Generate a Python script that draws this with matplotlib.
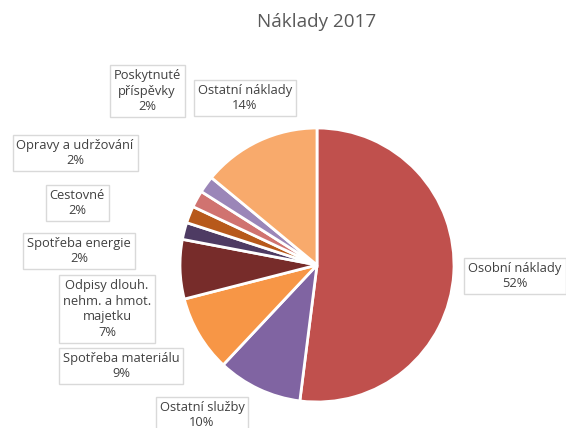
import matplotlib
matplotlib.use("Agg")
import matplotlib.pyplot as plt

categories = ["Osobní náklady", "Ostatní služby", "Spotřeba materiálu",
              "Odpisy dlouh.\nnehm. a hmot.\nmajetku", "Spotřeba energie",
              "Cestovné", "Opravy a udržování", "Poskytnuté\npříspěvky",
              "Ostatní náklady"]
values = [52, 10, 9, 7, 2, 2, 2, 2, 14]
colors = ["#C0504D", "#8064A2", "#F79646", "#772C2A", "#4E3B63",
          "#B7591B", "#D07370", "#9B86B8", "#F8AA6C"]

# label centres in pixel coordinates (x from left, y from top)
label_pos = [(515, 276), (202, 415), (121, 366), (107, 309), (79, 251),
             (77, 203), (75, 153), (147, 91), (245, 98)]

W, H = 566, 428
fig = plt.figure(figsize=(W / 100, H / 100), dpi=100)
cx, cy, r = 317, 265, 137
ax = fig.add_axes([(cx - r) / W, (H - cy - r) / H, 2 * r / W, 2 * r / H])
ax.pie(values, colors=colors, startangle=90, counterclock=False, radius=1,
       wedgeprops=dict(edgecolor="white", linewidth=2))
ax.set_xlim(-1.0, 1.0)
ax.set_ylim(-1.0, 1.0)
ax.set_aspect("equal")
ax.axis("off")

font = "Open Sans"
total = sum(values)
for cat, v, (px, py) in zip(categories, values, label_pos):
    fig.text(px / W, 1 - py / H, f"{cat}\n{round(100 * v / total)}%",
             ha="center", va="center", fontsize=9.3, family=font,
             color="#404040", linespacing=1.25,
             bbox=dict(boxstyle="square,pad=0.3", fc="white",
                       ec="#D9D9D9", lw=1))

fig.text(317 / W, 1 - 22 / H, "Náklady 2017", ha="center", va="center",
         fontsize=13.6, family=font, color="#595959")

fig.savefig("out.png", dpi=100)
